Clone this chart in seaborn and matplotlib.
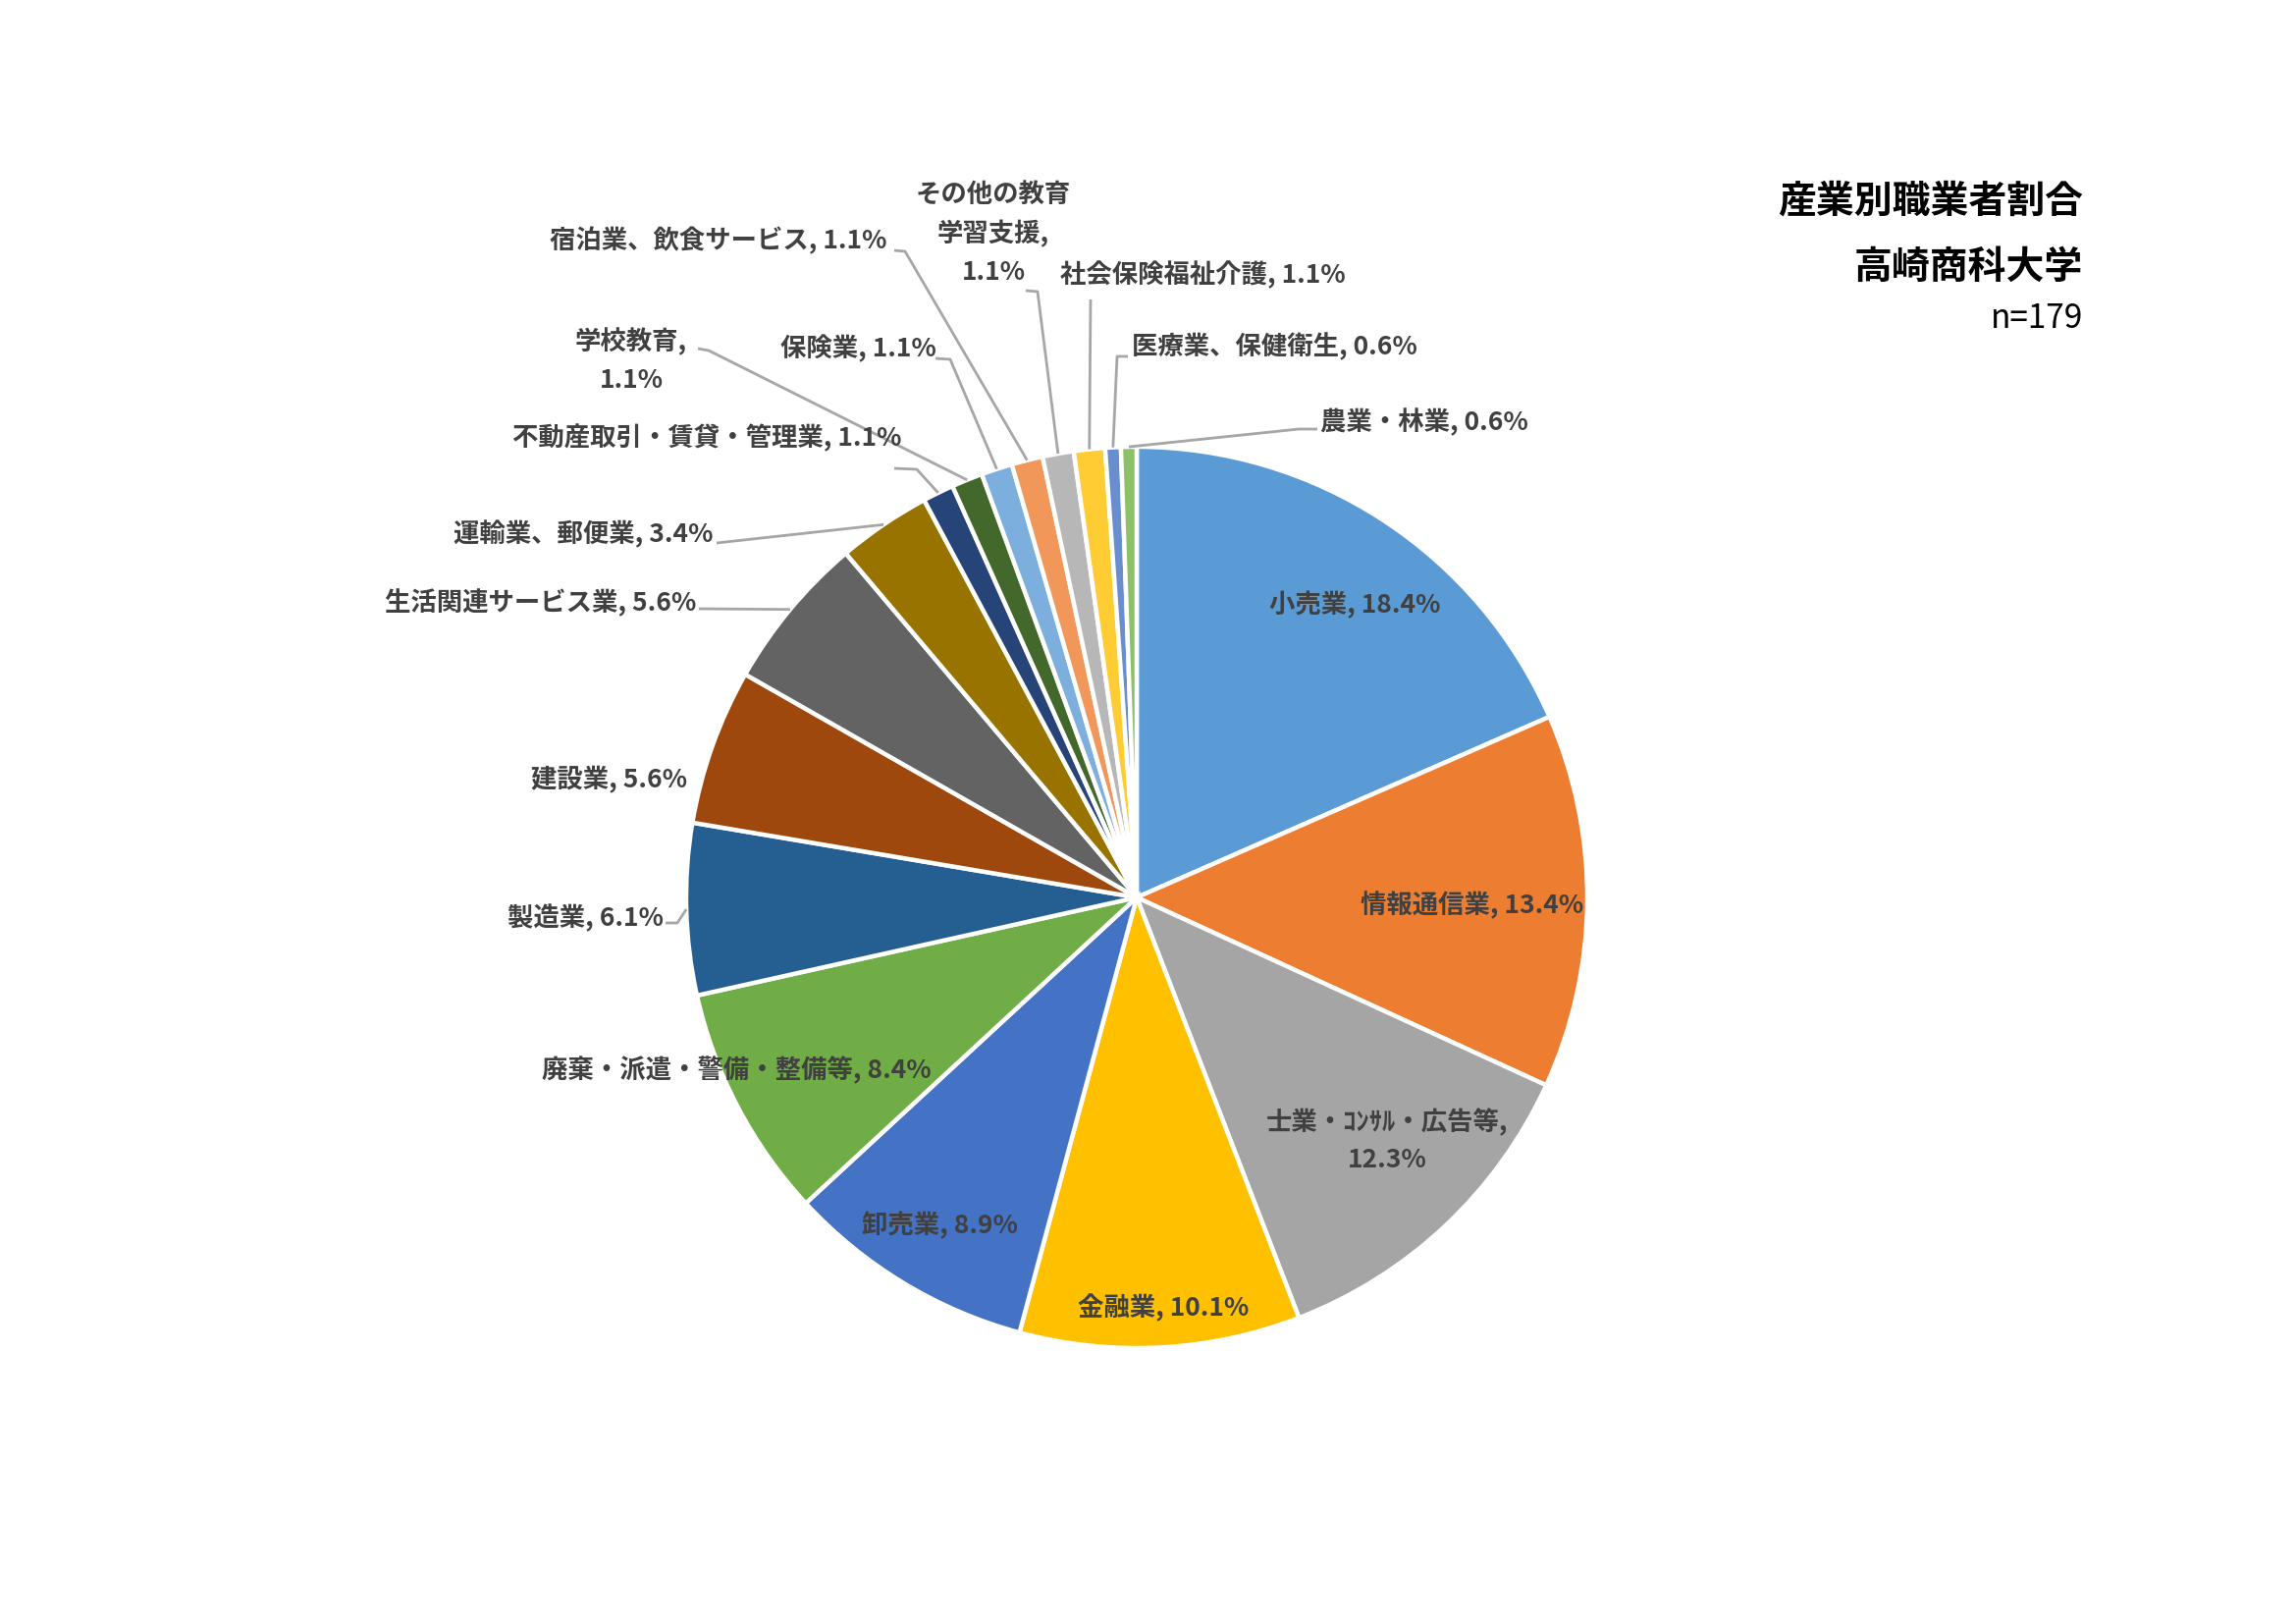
import numpy as np
import matplotlib
matplotlib.use("Agg")
import matplotlib.pyplot as plt
import seaborn as sns

sns.set_style("white")
plt.rcParams['font.family'] = ['Noto Sans CJK JP', 'DejaVu Sans']

# data (n=179, counts read back from the printed shares)
n_total = 179
industries = [
    "小売業", "情報通信業", "士業・ｺﾝｻﾙ・広告等", "金融業", "卸売業",
    "廃棄・派遣・警備・整備等", "製造業", "建設業", "生活関連サービス業",
    "運輸業、郵便業", "不動産取引・賃貸・管理業", "学校教育", "保険業",
    "宿泊業、飲食サービス", "その他の教育学習支援", "社会保険福祉介護",
    "医療業、保健衛生", "農業・林業",
]
counts = [33, 24, 22, 18, 16, 15, 11, 10, 10, 6, 2, 2, 2, 2, 2, 2, 1, 1]
colors = [
    "#5B9BD5", "#ED7D31", "#A5A5A5", "#FFC000", "#4472C4", "#70AD47",
    "#255E91", "#9E480E", "#636363", "#997300", "#264478", "#43682B",
    "#7CAFDD", "#F1975A", "#B7B7B7", "#FFCD33", "#698ED0", "#8CC168",
]
title_lines = ["産業別職業者割合", "高崎商科大学"]

pcts = [c / n_total * 100 for c in counts]
labels = [f"{name}, {p:.1f}%" for name, p in zip(industries, pcts)]
# line breaks as in the original chart
labels[2] = labels[2].replace(", ", ",\n")
labels[11] = labels[11].replace(", ", ",\n")
labels[14] = labels[14].replace("その他の教育", "その他の教育\n").replace(", ", ",\n")

W, H = 2339, 1654
fig = plt.figure(figsize=(W / 100, H / 100), dpi=100)
ax = fig.add_axes([0, 0, 1, 1])

cx, cy, r = 1158, H - 914, 459
wedges, _ = ax.pie(counts, colors=colors, startangle=90, counterclock=False,
                   center=(cx, cy), radius=r,
                   wedgeprops=dict(edgecolor="white", linewidth=3.2))
ax.set_aspect("auto")
ax.set_xlim(0, W)
ax.set_ylim(0, H)
ax.axis("off")

# label placement (image pixel coords, y from top)
label_pos = [
    (1380, 616, "center"), (1500, 922, "center"), (1413, 1162, "center"),
    (1185, 1332, "center"), (957, 1248, "center"), (750, 1090, "center"),
    (676, 935, "right"), (700, 794, "right"), (709, 614, "right"),
    (727, 544, "right"), (919, 446, "right"), (643, 367, "center"),
    (874, 355, "center"), (904, 245, "right"), (1012, 238, "center"),
    (1080, 280, "left"), (1153, 353, "left"), (1345, 430, "left"),
]
leaders = {
    6: [(678, 940), (690, 940)],
    8: [(712, 620)],
    9: [(730, 553)],
    10: [(911, 477), (934, 478)],
    11: [(711, 355), (722, 357)],
    12: [(953, 365), (968, 366)],
    13: [(911, 255), (922, 256)],
    14: [(1045, 296), (1057, 297)],
    15: [(1111, 305)],
    16: [(1149, 363), (1138, 363)],
    17: [(1342, 437), (1323, 437)],
}

for i, (w, lab) in enumerate(zip(wedges, labels)):
    x, y, ha = label_pos[i]
    ax.text(x, H - y, lab, ha=ha, va="center", fontsize=19, fontweight="bold",
            color="#404040", linespacing=1.55, multialignment="center")
    if i in leaders:
        mid = np.deg2rad((w.theta1 + w.theta2) / 2)
        ax_x = cx + r * np.cos(mid)
        ax_y = cy + r * np.sin(mid)
        pts = leaders[i]
        xs = [p[0] for p in pts] + [ax_x]
        ys = [H - p[1] for p in pts] + [ax_y]
        ax.plot(xs, ys, color="#A6A6A6", lw=2.0, solid_capstyle="butt")

ax.text(2122, H - 205, title_lines[0], ha="right", va="center", fontsize=28,
        fontweight="bold", color="black")
ax.text(2122, H - 272, title_lines[1], ha="right", va="center", fontsize=28,
        fontweight="bold", color="black")
ax.text(2122, H - 325, f"n={n_total}", ha="right", va="center", fontsize=24,
        color="black")

fig.savefig("out.png", dpi=100, facecolor="white")
